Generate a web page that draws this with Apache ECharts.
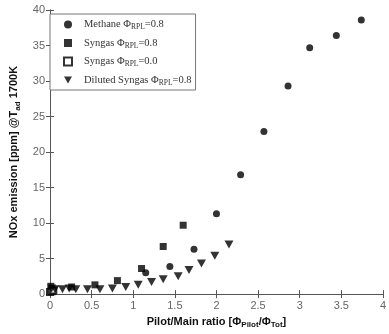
<!DOCTYPE html>
<html>
<head>
<meta charset="utf-8">
<script src="https://cdn.jsdelivr.net/npm/echarts@6/dist/echarts.min.js"></script>
<style>
  html, body { margin: 0; padding: 0; background: #fff; }
  #chart { width: 389px; height: 334px; }
</style>
</head>
<body>
<div id="chart"></div>
<script>
// 数据
const xTicks = [0, 0.5, 1, 1.5, 2, 2.5, 3, 3.5, 4]
const yTicks = [0, 5, 10, 15, 20, 25, 30, 35, 40]

const methaneX = [1.15, 1.44, 1.73, 2.0, 2.29, 2.57, 2.86, 3.12, 3.44, 3.74]
const methaneY = [3.0, 3.9, 6.3, 11.3, 16.8, 22.9, 29.3, 34.7, 36.4, 38.6]

const syngasX = [0.01, 0.26, 0.54, 0.81, 1.1, 1.36, 1.6]
const syngasY = [1.1, 1.0, 1.3, 1.9, 3.6, 6.7, 9.7]

const syngas0X = [0.0, 0.02, 0.04]
const syngas0Y = [0.3, 0.4, 0.5]

const dilutedX = [0.02, 0.06, 0.15, 0.23, 0.31, 0.45, 0.6, 0.75, 0.91, 1.06, 1.22, 1.36, 1.54, 1.67, 1.82, 1.98, 2.15]
const dilutedY = [0.8, 0.7, 0.7, 0.8, 0.7, 0.7, 0.7, 0.8, 1.0, 1.3, 1.7, 2.1, 2.5, 3.4, 4.3, 5.4, 7.0]

const names = ['Methane', 'Syngas', 'Syngas0', 'Diluted']
const legendText = {
  Methane: 'Methane Φ{sub|RPL}=0.8',
  Syngas: 'Syngas Φ{sub|RPL}=0.8',
  Syngas0: 'Syngas Φ{sub|RPL}=0.0',
  Diluted: 'Diluted Syngas Φ{sub|RPL}=0.8'
}
// 下三角图标
const downTriangle = 'path://M0,0L10,0L5,9Z'

const pairs = (xs, ys) => xs.map((x, i) => [x, ys[i]])

const axisColor = '#555'
const labelStyle = { color: '#666', fontSize: 11, fontFamily: 'Liberation Sans' }
const subBold = { fontSize: 8, fontWeight: 'bold', fontFamily: 'Liberation Sans', color: '#111', padding: [7, 0, 0, 0] }

const option = {
  animation: false,
  grid: { left: 50, right: 1, top: 10, bottom: 29 },
  legend: {
    orient: 'vertical',
    left: 50,
    top: 14,
    itemWidth: 8,
    itemHeight: 8,
    itemGap: 6,
    padding: [5, 4, 3, 13],
    borderColor: '#777',
    borderWidth: 1,
    backgroundColor: '#fff',
    data: [
      { name: 'Methane', icon: 'circle' },
      { name: 'Syngas', icon: 'rect' },
      { name: 'Syngas0', icon: 'emptyRect', itemStyle: { borderWidth: 1 } },
      { name: 'Diluted', icon: downTriangle }
    ],
    formatter: (name) => legendText[name],
    textStyle: {
      color: '#333',
      fontSize: 10.5,
      fontFamily: 'Liberation Serif',
      padding: [0, 0, 0, 7],
      rich: {
        sub: { fontSize: 7.5, fontFamily: 'Liberation Serif', color: '#333', padding: [6, 0, 0, 0] }
      }
    }
  },
  xAxis: [
    {
      type: 'value',
      min: 0,
      max: 4,
      interval: 0.5,
      name: 'Pilot/Main ratio [Φ{sub|Pilot}/Φ{sub|Tot}]',
      nameLocation: 'middle',
      nameGap: 16,
      nameTextStyle: {
        color: '#111',
        fontSize: 11,
        fontWeight: 'bold',
        fontFamily: 'Liberation Sans',
        rich: { sub: subBold }
      },
      axisLine: { lineStyle: { color: axisColor } },
      axisTick: { inside: true, length: 4, lineStyle: { color: axisColor } },
      axisLabel: { ...labelStyle, margin: 6, formatter: (v) => String(v) },
      splitLine: { show: false }
    },
    {
      type: 'value',
      position: 'top',
      min: 0,
      max: 4,
      interval: 0.5,
      axisLine: { show: true, lineStyle: { color: axisColor } },
      axisTick: { inside: true, length: 4, lineStyle: { color: axisColor } },
      axisLabel: { show: false },
      splitLine: { show: false }
    }
  ],
  yAxis: [
    {
      type: 'value',
      min: 0,
      max: 40,
      interval: 5,
      name: 'NOx emission [ppm] @T{sub|ad} 1700K',
      nameLocation: 'middle',
      nameGap: 21,
      nameTextStyle: {
        color: '#111',
        fontSize: 11,
        fontWeight: 'bold',
        fontFamily: 'Liberation Sans',
        rich: { sub: subBold }
      },
      axisLine: { show: true, lineStyle: { color: axisColor } },
      axisTick: { show: true, inside: true, length: 4, lineStyle: { color: axisColor } },
      axisLabel: { ...labelStyle, margin: 5 },
      splitLine: { show: false }
    },
    {
      type: 'value',
      position: 'right',
      min: 0,
      max: 40,
      interval: 5,
      axisLine: { show: true, lineStyle: { color: axisColor } },
      axisTick: { show: true, inside: true, length: 4, lineStyle: { color: axisColor } },
      axisLabel: { show: false },
      splitLine: { show: false }
    }
  ],
  series: [
    {
      name: 'Methane',
      type: 'scatter',
      symbol: 'circle',
      symbolSize: 7,
      itemStyle: { color: '#000' },
      data: pairs(methaneX, methaneY)
    },
    {
      name: 'Syngas',
      type: 'scatter',
      symbol: 'rect',
      symbolSize: 7,
      itemStyle: { color: '#000' },
      data: pairs(syngasX, syngasY)
    },
    {
      name: 'Syngas0',
      type: 'scatter',
      symbol: 'emptyRect',
      symbolSize: 6,
      itemStyle: { color: '#000', borderColor: '#000', borderWidth: 1 },
      data: pairs(syngas0X, syngas0Y)
    },
    {
      name: 'Diluted',
      type: 'scatter',
      symbol: downTriangle,
      symbolSize: [9, 8],
      itemStyle: { color: '#000' },
      data: pairs(dilutedX, dilutedY)
    }
  ]
}

const myChart = echarts.init(document.getElementById('chart'))
myChart.setOption(option)
</script>
</body>
</html>
